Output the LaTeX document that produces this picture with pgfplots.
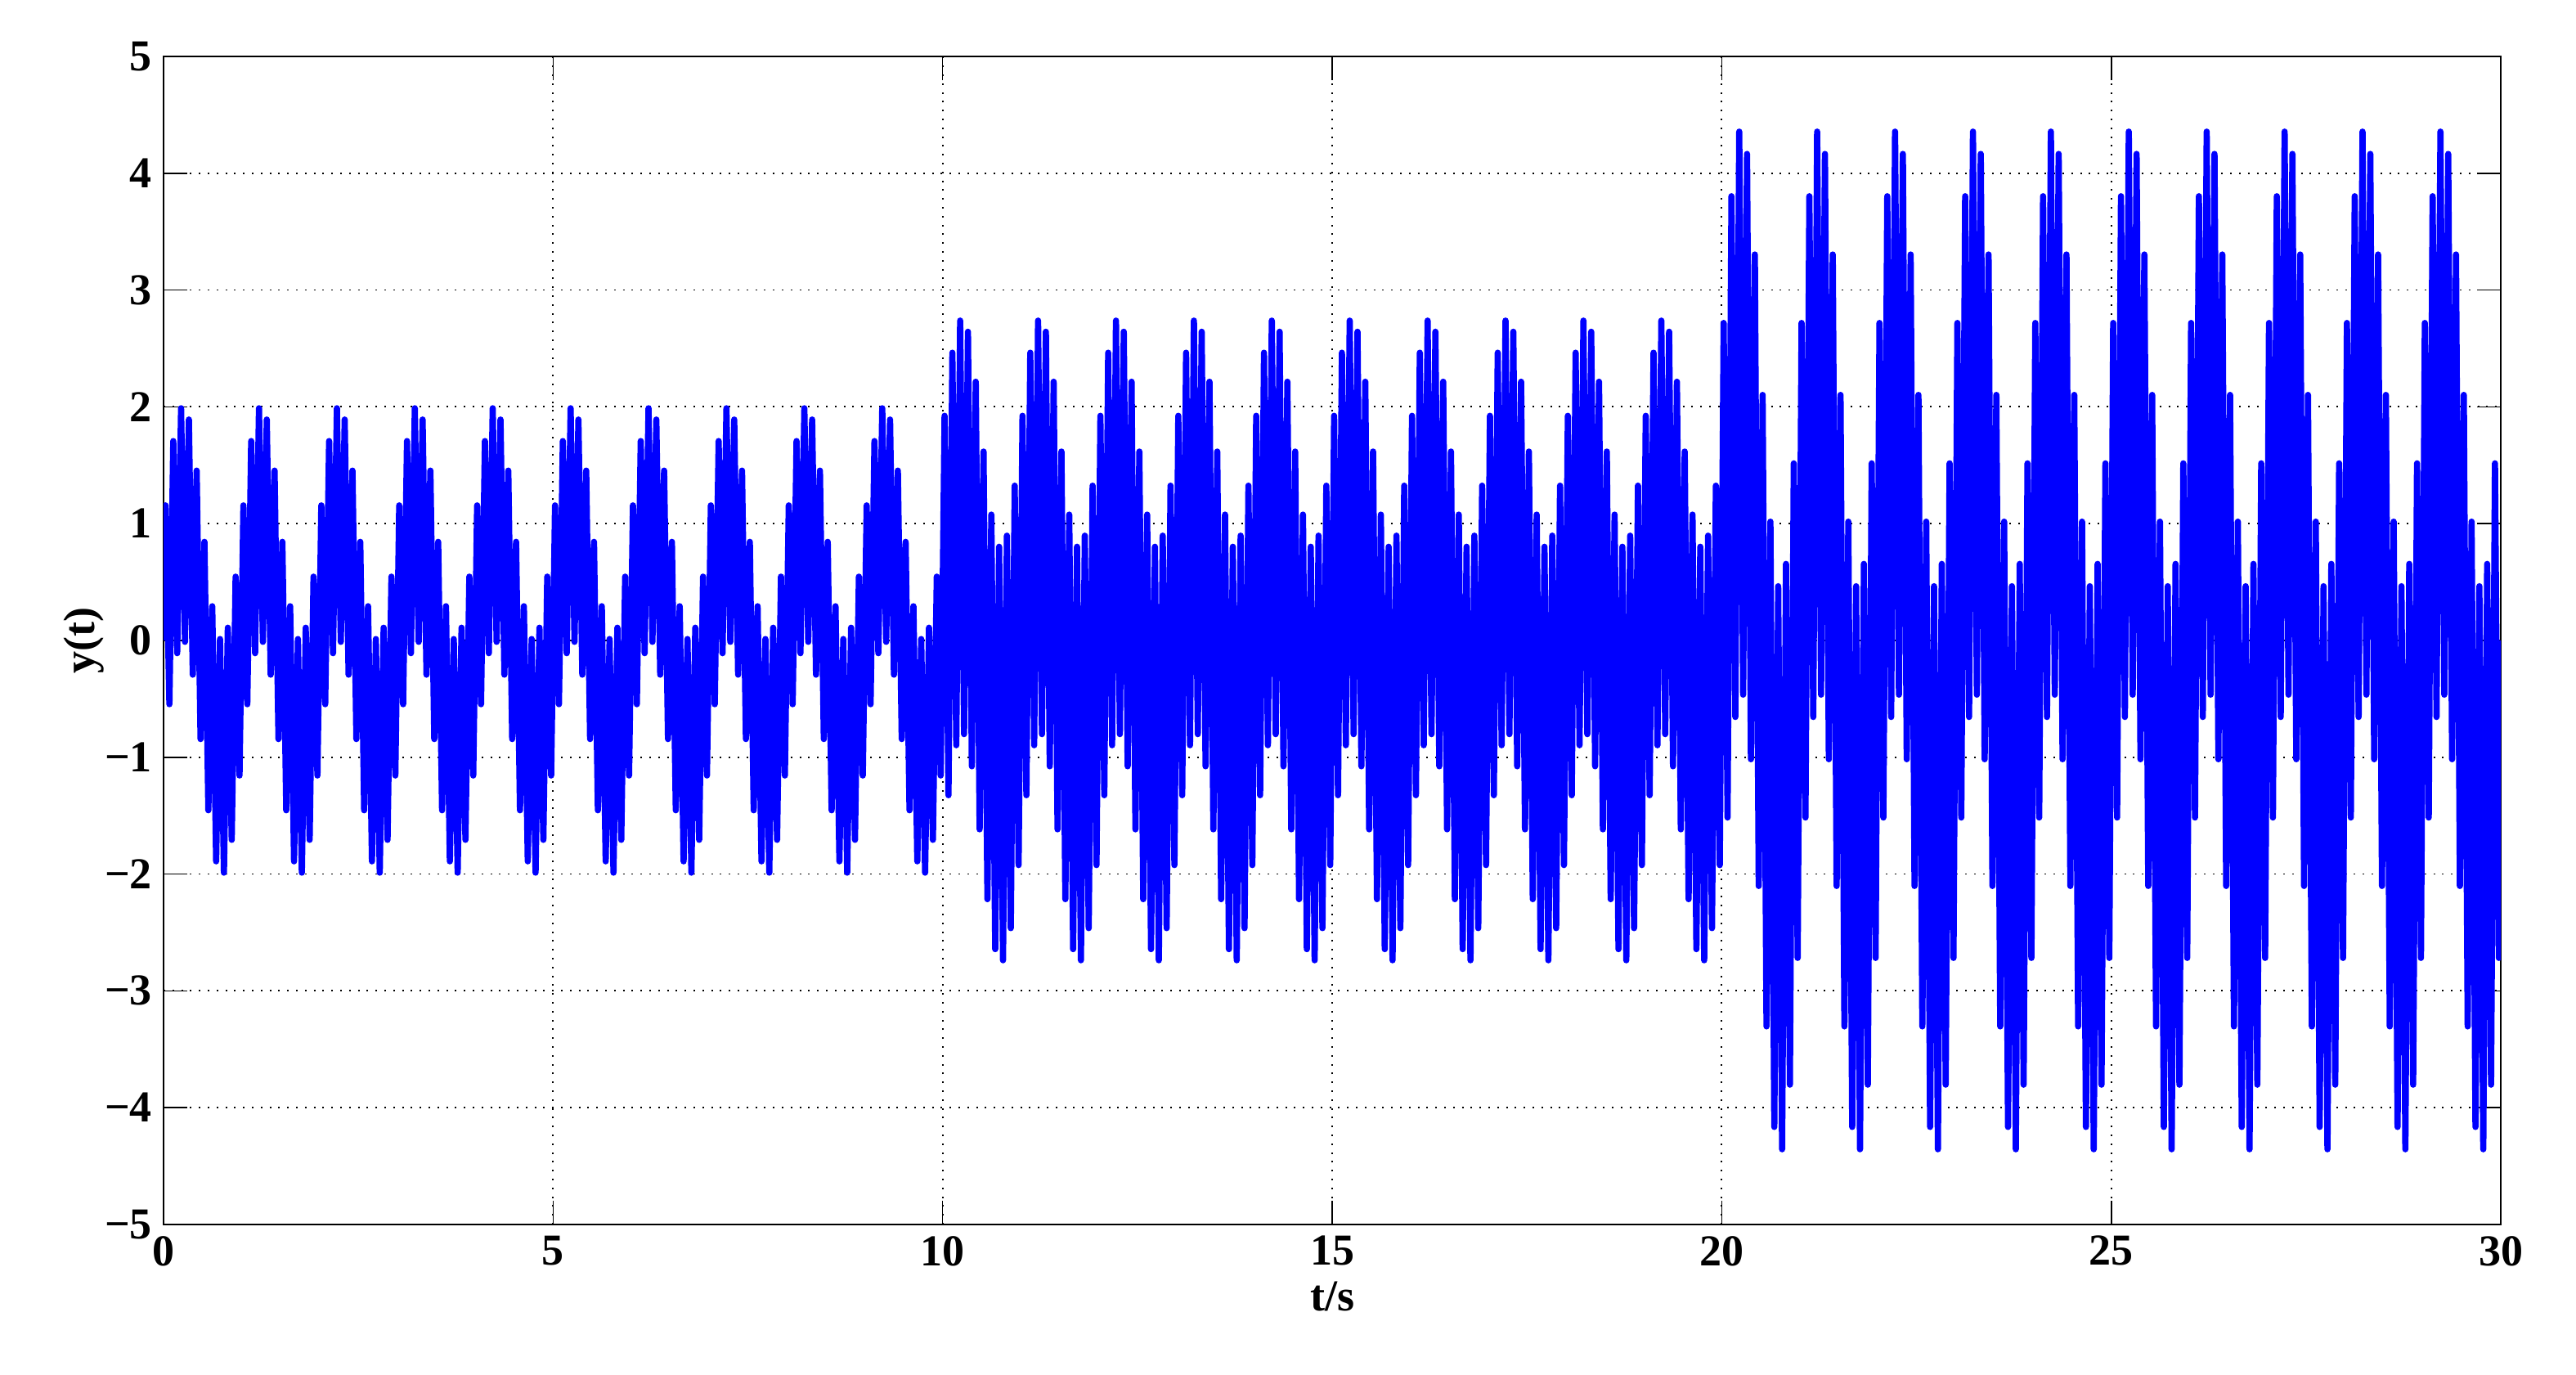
\documentclass[border=0pt]{standalone}
\usepackage{fontspec}
\setmainfont{Liberation Serif}
\usepackage{pgfplots}
\pgfplotsset{compat=1.18}
\usetikzlibrary{calc}

\begin{document}
\begin{tikzpicture}
\begin{axis}[
    name=ax,
    scale only axis,
    width=714.5pt, height=357pt,
    xmin=0, xmax=30, ymin=-5, ymax=5,
    xtick={0,5,...,30},
    ytick={-5,-4,...,5},
    yticklabels={−5,−4,−3,−2,−1,0,1,2,3,4,5},
    tick align=inside,
    major tick length=7.3pt,
    tick style={black, line width=0.4pt},
    axis line style={black, line width=0.4pt},
    grid=major,
    major grid style={black, line width=0.45pt, dash pattern=on 0.5pt off 2.2pt},
    /pgf/number format/assume math mode=true,
    ticklabel style={font=\fontsize{13.5}{16}\selectfont\bfseries},
    xlabel={t/s}, ylabel={y(t)},
    every axis x label/.style={at={(axis description cs:0.5,-0.0616)}, anchor=center,
        font=\fontsize{13.5}{16}\selectfont\bfseries},
    every axis y label/.style={at={(axis description cs:-0.034,0.5)}, anchor=center, rotate=90,
        font=\fontsize{13.5}{16}\selectfont\bfseries},
]
\addplot[blue, line width=1.9pt, line join=round, mark=none] coordinates {
(0,0) (0.025,1.156) (0.075,-0.546) (0.125,1.707) (0.175,-0.109) (0.225,1.988) (0.275,-0.012) (0.325,1.891) (0.375,-0.293) (0.425,1.454) (0.475,-0.844) (0.525,0.844) (0.575,-1.454) (0.625,0.293) (0.675,-1.891) (0.725,0.012) (0.775,-1.988) (0.825,0.109) (0.875,-1.707) (0.925,0.546) (0.975,-1.156)
(1.025,1.156) (1.075,-0.546) (1.125,1.707) (1.175,-0.109) (1.225,1.988) (1.275,-0.012) (1.325,1.891) (1.375,-0.293) (1.425,1.454) (1.475,-0.844) (1.525,0.844) (1.575,-1.454) (1.625,0.293) (1.675,-1.891) (1.725,0.012) (1.775,-1.988) (1.825,0.109) (1.875,-1.707) (1.925,0.546) (1.975,-1.156)
(2.025,1.156) (2.075,-0.546) (2.125,1.707) (2.175,-0.109) (2.225,1.988) (2.275,-0.012) (2.325,1.891) (2.375,-0.293) (2.425,1.454) (2.475,-0.844) (2.525,0.844) (2.575,-1.454) (2.625,0.293) (2.675,-1.891) (2.725,0.012) (2.775,-1.988) (2.825,0.109) (2.875,-1.707) (2.925,0.546) (2.975,-1.156)
(3.025,1.156) (3.075,-0.546) (3.125,1.707) (3.175,-0.109) (3.225,1.988) (3.275,-0.012) (3.325,1.891) (3.375,-0.293) (3.425,1.454) (3.475,-0.844) (3.525,0.844) (3.575,-1.454) (3.625,0.293) (3.675,-1.891) (3.725,0.012) (3.775,-1.988) (3.825,0.109) (3.875,-1.707) (3.925,0.546) (3.975,-1.156)
(4.025,1.156) (4.075,-0.546) (4.125,1.707) (4.175,-0.109) (4.225,1.988) (4.275,-0.012) (4.325,1.891) (4.375,-0.293) (4.425,1.454) (4.475,-0.844) (4.525,0.844) (4.575,-1.454) (4.625,0.293) (4.675,-1.891) (4.725,0.012) (4.775,-1.988) (4.825,0.109) (4.875,-1.707) (4.925,0.546) (4.975,-1.156)
(5.025,1.156) (5.075,-0.546) (5.125,1.707) (5.175,-0.109) (5.225,1.988) (5.275,-0.012) (5.325,1.891) (5.375,-0.293) (5.425,1.454) (5.475,-0.844) (5.525,0.844) (5.575,-1.454) (5.625,0.293) (5.675,-1.891) (5.725,0.012) (5.775,-1.988) (5.825,0.109) (5.875,-1.707) (5.925,0.546) (5.975,-1.156)
(6.025,1.156) (6.075,-0.546) (6.125,1.707) (6.175,-0.109) (6.225,1.988) (6.275,-0.012) (6.325,1.891) (6.375,-0.293) (6.425,1.454) (6.475,-0.844) (6.525,0.844) (6.575,-1.454) (6.625,0.293) (6.675,-1.891) (6.725,0.012) (6.775,-1.988) (6.825,0.109) (6.875,-1.707) (6.925,0.546) (6.975,-1.156)
(7.025,1.156) (7.075,-0.546) (7.125,1.707) (7.175,-0.109) (7.225,1.988) (7.275,-0.012) (7.325,1.891) (7.375,-0.293) (7.425,1.454) (7.475,-0.844) (7.525,0.844) (7.575,-1.454) (7.625,0.293) (7.675,-1.891) (7.725,0.012) (7.775,-1.988) (7.825,0.109) (7.875,-1.707) (7.925,0.546) (7.975,-1.156)
(8.025,1.156) (8.075,-0.546) (8.125,1.707) (8.175,-0.109) (8.225,1.988) (8.275,-0.012) (8.325,1.891) (8.375,-0.293) (8.425,1.454) (8.475,-0.844) (8.525,0.844) (8.575,-1.454) (8.625,0.293) (8.675,-1.891) (8.725,0.012) (8.775,-1.988) (8.825,0.109) (8.875,-1.707) (8.925,0.546) (8.975,-1.156)
(9.025,1.156) (9.075,-0.546) (9.125,1.707) (9.175,-0.109) (9.225,1.988) (9.275,-0.012) (9.325,1.891) (9.375,-0.293) (9.425,1.454) (9.475,-0.844) (9.525,0.844) (9.575,-1.454) (9.625,0.293) (9.675,-1.891) (9.725,0.012) (9.775,-1.988) (9.825,0.109) (9.875,-1.707) (9.925,0.546) (9.975,-1.156)
(10.025,1.923) (10.075,-1.325) (10.125,2.463) (10.175,-0.897) (10.225,2.738) (10.275,-0.802) (10.325,2.643) (10.375,-1.077) (10.425,2.215) (10.475,-1.617) (10.525,1.617) (10.575,-2.215) (10.625,1.077) (10.675,-2.643) (10.725,0.802) (10.775,-2.738) (10.825,0.897) (10.875,-2.463) (10.925,1.325) (10.975,-1.923)
(11.025,1.923) (11.075,-1.325) (11.125,2.463) (11.175,-0.897) (11.225,2.738) (11.275,-0.802) (11.325,2.643) (11.375,-1.077) (11.425,2.215) (11.475,-1.617) (11.525,1.617) (11.575,-2.215) (11.625,1.077) (11.675,-2.643) (11.725,0.802) (11.775,-2.738) (11.825,0.897) (11.875,-2.463) (11.925,1.325) (11.975,-1.923)
(12.025,1.923) (12.075,-1.325) (12.125,2.463) (12.175,-0.897) (12.225,2.738) (12.275,-0.802) (12.325,2.643) (12.375,-1.077) (12.425,2.215) (12.475,-1.617) (12.525,1.617) (12.575,-2.215) (12.625,1.077) (12.675,-2.643) (12.725,0.802) (12.775,-2.738) (12.825,0.897) (12.875,-2.463) (12.925,1.325) (12.975,-1.923)
(13.025,1.923) (13.075,-1.325) (13.125,2.463) (13.175,-0.897) (13.225,2.738) (13.275,-0.802) (13.325,2.643) (13.375,-1.077) (13.425,2.215) (13.475,-1.617) (13.525,1.617) (13.575,-2.215) (13.625,1.077) (13.675,-2.643) (13.725,0.802) (13.775,-2.738) (13.825,0.897) (13.875,-2.463) (13.925,1.325) (13.975,-1.923)
(14.025,1.923) (14.075,-1.325) (14.125,2.463) (14.175,-0.897) (14.225,2.738) (14.275,-0.802) (14.325,2.643) (14.375,-1.077) (14.425,2.215) (14.475,-1.617) (14.525,1.617) (14.575,-2.215) (14.625,1.077) (14.675,-2.643) (14.725,0.802) (14.775,-2.738) (14.825,0.897) (14.875,-2.463) (14.925,1.325) (14.975,-1.923)
(15.025,1.923) (15.075,-1.325) (15.125,2.463) (15.175,-0.897) (15.225,2.738) (15.275,-0.802) (15.325,2.643) (15.375,-1.077) (15.425,2.215) (15.475,-1.617) (15.525,1.617) (15.575,-2.215) (15.625,1.077) (15.675,-2.643) (15.725,0.802) (15.775,-2.738) (15.825,0.897) (15.875,-2.463) (15.925,1.325) (15.975,-1.923)
(16.025,1.923) (16.075,-1.325) (16.125,2.463) (16.175,-0.897) (16.225,2.738) (16.275,-0.802) (16.325,2.643) (16.375,-1.077) (16.425,2.215) (16.475,-1.617) (16.525,1.617) (16.575,-2.215) (16.625,1.077) (16.675,-2.643) (16.725,0.802) (16.775,-2.738) (16.825,0.897) (16.875,-2.463) (16.925,1.325) (16.975,-1.923)
(17.025,1.923) (17.075,-1.325) (17.125,2.463) (17.175,-0.897) (17.225,2.738) (17.275,-0.802) (17.325,2.643) (17.375,-1.077) (17.425,2.215) (17.475,-1.617) (17.525,1.617) (17.575,-2.215) (17.625,1.077) (17.675,-2.643) (17.725,0.802) (17.775,-2.738) (17.825,0.897) (17.875,-2.463) (17.925,1.325) (17.975,-1.923)
(18.025,1.923) (18.075,-1.325) (18.125,2.463) (18.175,-0.897) (18.225,2.738) (18.275,-0.802) (18.325,2.643) (18.375,-1.077) (18.425,2.215) (18.475,-1.617) (18.525,1.617) (18.575,-2.215) (18.625,1.077) (18.675,-2.643) (18.725,0.802) (18.775,-2.738) (18.825,0.897) (18.875,-2.463) (18.925,1.325) (18.975,-1.923)
(19.025,1.923) (19.075,-1.325) (19.125,2.463) (19.175,-0.897) (19.225,2.738) (19.275,-0.802) (19.325,2.643) (19.375,-1.077) (19.425,2.215) (19.475,-1.617) (19.525,1.617) (19.575,-2.215) (19.625,1.077) (19.675,-2.643) (19.725,0.802) (19.775,-2.738) (19.825,0.897) (19.875,-2.463) (19.925,1.325) (19.975,-1.923)
(20.025,2.718) (20.075,-1.516) (20.125,3.803) (20.175,-0.655) (20.225,4.356) (20.275,-0.464) (20.325,4.165) (20.375,-1.017) (20.425,3.304) (20.475,-2.102) (20.525,2.102) (20.575,-3.304) (20.625,1.017) (20.675,-4.165) (20.725,0.464) (20.775,-4.356) (20.825,0.655) (20.875,-3.803) (20.925,1.516) (20.975,-2.718)
(21.025,2.718) (21.075,-1.516) (21.125,3.803) (21.175,-0.655) (21.225,4.356) (21.275,-0.464) (21.325,4.165) (21.375,-1.017) (21.425,3.304) (21.475,-2.102) (21.525,2.102) (21.575,-3.304) (21.625,1.017) (21.675,-4.165) (21.725,0.464) (21.775,-4.356) (21.825,0.655) (21.875,-3.803) (21.925,1.516) (21.975,-2.718)
(22.025,2.718) (22.075,-1.516) (22.125,3.803) (22.175,-0.655) (22.225,4.356) (22.275,-0.464) (22.325,4.165) (22.375,-1.017) (22.425,3.304) (22.475,-2.102) (22.525,2.102) (22.575,-3.304) (22.625,1.017) (22.675,-4.165) (22.725,0.464) (22.775,-4.356) (22.825,0.655) (22.875,-3.803) (22.925,1.516) (22.975,-2.718)
(23.025,2.718) (23.075,-1.516) (23.125,3.803) (23.175,-0.655) (23.225,4.356) (23.275,-0.464) (23.325,4.165) (23.375,-1.017) (23.425,3.304) (23.475,-2.102) (23.525,2.102) (23.575,-3.304) (23.625,1.017) (23.675,-4.165) (23.725,0.464) (23.775,-4.356) (23.825,0.655) (23.875,-3.803) (23.925,1.516) (23.975,-2.718)
(24.025,2.718) (24.075,-1.516) (24.125,3.803) (24.175,-0.655) (24.225,4.356) (24.275,-0.464) (24.325,4.165) (24.375,-1.017) (24.425,3.304) (24.475,-2.102) (24.525,2.102) (24.575,-3.304) (24.625,1.017) (24.675,-4.165) (24.725,0.464) (24.775,-4.356) (24.825,0.655) (24.875,-3.803) (24.925,1.516) (24.975,-2.718)
(25.025,2.718) (25.075,-1.516) (25.125,3.803) (25.175,-0.655) (25.225,4.356) (25.275,-0.464) (25.325,4.165) (25.375,-1.017) (25.425,3.304) (25.475,-2.102) (25.525,2.102) (25.575,-3.304) (25.625,1.017) (25.675,-4.165) (25.725,0.464) (25.775,-4.356) (25.825,0.655) (25.875,-3.803) (25.925,1.516) (25.975,-2.718)
(26.025,2.718) (26.075,-1.516) (26.125,3.803) (26.175,-0.655) (26.225,4.356) (26.275,-0.464) (26.325,4.165) (26.375,-1.017) (26.425,3.304) (26.475,-2.102) (26.525,2.102) (26.575,-3.304) (26.625,1.017) (26.675,-4.165) (26.725,0.464) (26.775,-4.356) (26.825,0.655) (26.875,-3.803) (26.925,1.516) (26.975,-2.718)
(27.025,2.718) (27.075,-1.516) (27.125,3.803) (27.175,-0.655) (27.225,4.356) (27.275,-0.464) (27.325,4.165) (27.375,-1.017) (27.425,3.304) (27.475,-2.102) (27.525,2.102) (27.575,-3.304) (27.625,1.017) (27.675,-4.165) (27.725,0.464) (27.775,-4.356) (27.825,0.655) (27.875,-3.803) (27.925,1.516) (27.975,-2.718)
(28.025,2.718) (28.075,-1.516) (28.125,3.803) (28.175,-0.655) (28.225,4.356) (28.275,-0.464) (28.325,4.165) (28.375,-1.017) (28.425,3.304) (28.475,-2.102) (28.525,2.102) (28.575,-3.304) (28.625,1.017) (28.675,-4.165) (28.725,0.464) (28.775,-4.356) (28.825,0.655) (28.875,-3.803) (28.925,1.516) (28.975,-2.718)
(29.025,2.718) (29.075,-1.516) (29.125,3.803) (29.175,-0.655) (29.225,4.356) (29.275,-0.464) (29.325,4.165) (29.375,-1.017) (29.425,3.304) (29.475,-2.102) (29.525,2.102) (29.575,-3.304) (29.625,1.017) (29.675,-4.165) (29.725,0.464) (29.775,-4.356) (29.825,0.655) (29.875,-3.803) (29.925,1.516) (29.975,-2.718)
(30,0)
};
\end{axis}
% white margins as in the reference
\path ($(ax.south west)+(-50pt,-46pt)$) rectangle ($(ax.north east)+(23pt,17.25pt)$);
\end{tikzpicture}
\end{document}
